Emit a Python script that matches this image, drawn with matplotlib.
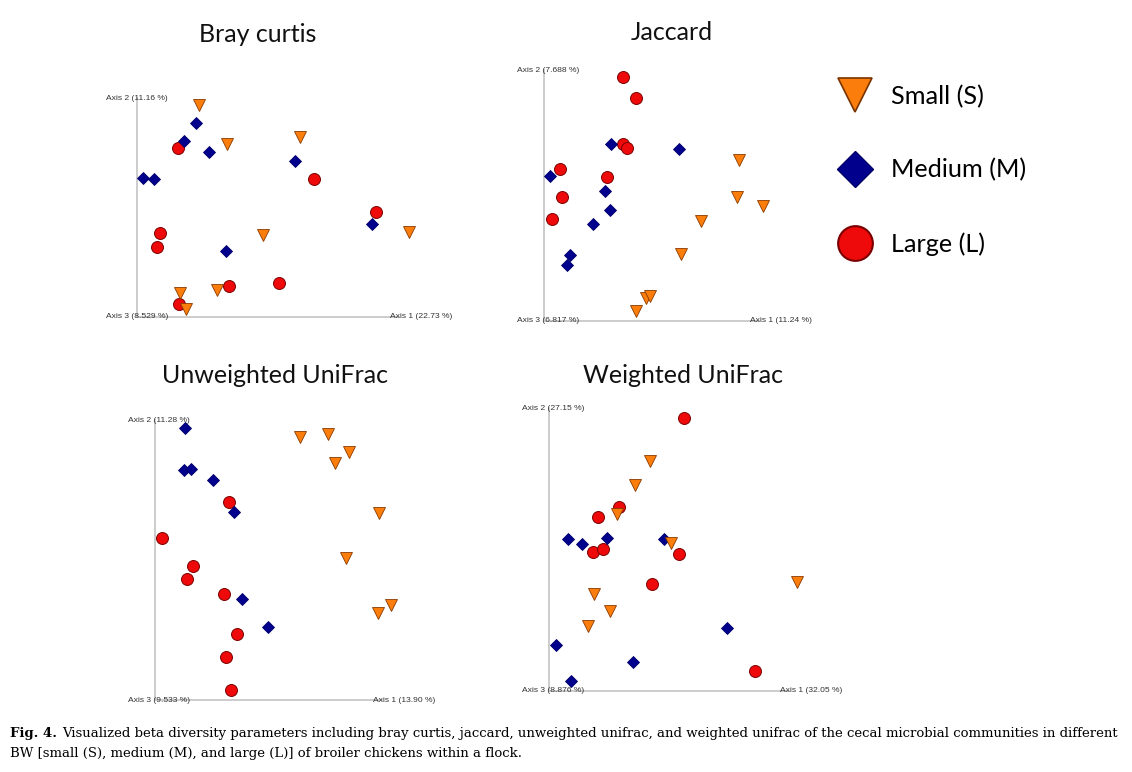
import matplotlib
matplotlib.use("Agg")
import matplotlib.pyplot as plt
from matplotlib.lines import Line2D

W, H = 1132, 772

# ordination scores (axis 1, axis 2), per group
bray_S = [(62, 212), (90, 173), (163, 180), (126, 82), (272, 85), (43, 24), (80, 27), (49, 8)]
bray_M = [(59, 194), (47, 176), (72, 165), (6, 139), (17, 138), (158, 156), (235, 93), (89, 66)]
bray_L = [(41, 169), (177, 138), (239, 105), (23, 84), (20, 70), (92, 31), (142, 34), (42, 13)]

jac_S = [(195, 161), (193, 124), (219, 115), (157, 100), (137, 67), (102, 23), (106, 25), (92, 10)]
jac_M = [(67, 177), (135, 172), (6, 145), (61, 130), (66, 111), (49, 97), (26, 66), (23, 56)]
jac_L = [(79, 244), (92, 223), (79, 177), (83, 173), (16, 152), (63, 144), (18, 124), (8, 102)]

unw_S = [(145, 263), (173, 266), (194, 248), (180, 237), (224, 187), (191, 142), (236, 95), (223, 87)]
unw_M = [(30, 272), (29, 230), (36, 231), (58, 220), (79, 188), (87, 101), (113, 73)]
unw_L = [(74, 198), (7, 162), (38, 134), (32, 121), (69, 106), (82, 66), (71, 43), (76, 10)]

wei_S = [(101, 230), (86, 206), (68, 177), (122, 148), (248, 109), (45, 97), (61, 80), (39, 65)]
wei_M = [(19, 152), (33, 147), (58, 153), (115, 152), (178, 63), (7, 46), (84, 29), (22, 10)]
wei_L = [(135, 273), (70, 184), (49, 174), (44, 139), (54, 142), (130, 137), (103, 107), (206, 20)]

titles = ["Bray curtis", "Jaccard", "Unweighted UniFrac", "Weighted UniFrac"]
axis1_labels = ["Axis 1 (22.73 %)", "Axis 1 (11.24 %)", "Axis 1 (13.90 %)", "Axis 1 (32.05 %)"]
axis2_labels = ["Axis 2 (11.16 %)", "Axis 2 (7.688 %)", "Axis 2 (11.28 %)", "Axis 2 (27.15 %)"]
axis3_labels = ["Axis 3 (8.529 %)", "Axis 3 (6.817 %)", "Axis 3 (9.533 %)", "Axis 3 (8.876 %)"]
groups = ["Small (S)", "Medium (M)", "Large (L)"]

S_style = dict(marker="v", ms=9, mfc="#fb7d0b", mec="#8a3a00", mew=0.6, ls="none")
M_style = dict(marker="D", ms=6.2, mfc="#00008c", mec="#00006a", mew=0.6, ls="none")
L_style = dict(marker="o", ms=8.6, mfc="#ee0a0a", mec="#7a0000", mew=0.7, ls="none")

fig = plt.figure(figsize=(W / 100, H / 100), dpi=100)

# panel layout in pixels: origin (x0, y0), axis-2 top, axis-1 end, label starts
panels = [
    dict(x0=137, y0=317, top=219, xend=262, lab_left=-31, lab_right=253),
    dict(x0=544, y0=321, top=251, xend=215, lab_left=-27, lab_right=206),
    dict(x0=155, y0=700, top=280, xend=227, lab_left=-27, lab_right=218),
    dict(x0=549, y0=691, top=283, xend=240, lab_left=-27, lab_right=231),
]
data = [(bray_S, bray_M, bray_L), (jac_S, jac_M, jac_L),
        (unw_S, unw_M, unw_L), (wei_S, wei_M, wei_L)]
title_pos = [(258, 34), (672, 33), (275, 376), (683, 376)]

L, R, T, B = 40, 320, 300, 15
for i, p in enumerate(panels):
    x0, y0 = p["x0"], p["y0"]
    ax = fig.add_axes([(x0 - L) / W, (H - (y0 + B)) / H, (L + R) / W, (T + B) / H])
    ax.set_xlim(-L, R)
    ax.set_ylim(-B, T)
    ax.axis("off")
    ax.plot([0, 0], [0, p["top"]], color="#c4c4c4", lw=1.2, zorder=1)
    ax.plot([0, p["xend"]], [0, 0], color="#c4c4c4", lw=1.2, zorder=1)
    S, M, Lg = data[i]
    ax.plot([a for a, b in Lg], [b for a, b in Lg], zorder=3, **L_style)
    ax.plot([a for a, b in M], [b for a, b in M], zorder=3, **M_style)
    ax.plot([a for a, b in S], [b for a, b in S], zorder=3, **S_style)
    lab = dict(fontsize=6.1, color="#333333", family="Liberation Sans", va="center", ha="left")
    ax.text(p["lab_left"], p["top"], axis2_labels[i], **lab)
    ax.text(p["lab_left"], 0, axis3_labels[i], **lab)
    ax.text(p["lab_right"], 0, axis1_labels[i], **lab)
    tx, ty = title_pos[i]
    fig.text(tx / W, 1 - ty / H, titles[i], fontsize=18, family="Lato",
             ha="center", va="center", color="#111111")

# legend
handles = [Line2D([], [], marker="v", ms=25, mfc="#fb7d0b", mec="#7a3300", mew=1.2, ls="none"),
           Line2D([], [], marker="D", ms=18, mfc="#00008c", mec="#00006a", mew=1, ls="none"),
           Line2D([], [], marker="o", ms=25, mfc="#ee0a0a", mec="#7a0000", mew=1.5, ls="none")]
fig.legend(handles, groups, loc="upper left", bbox_to_anchor=(822 / W, 1 - 72 / H),
           frameon=False, prop=dict(family="Lato", size=18.2),
           labelspacing=2.0, handletextpad=0.62, handlelength=1.6, borderpad=0)

# caption
cap1 = "Visualized beta diversity parameters including bray curtis, jaccard, unweighted unifrac, and weighted unifrac of the cecal microbial communities in different"
cap2 = "BW [small (S), medium (M), and large (L)] of broiler chickens within a flock."
fs = 10.0
f0 = fig.text(10 / W, 1 - 734 / H, "Fig. 4.", fontsize=fs, family="DejaVu Serif",
              weight="bold", va="center", ha="left")
t1 = fig.text(62 / W, 1 - 734 / H, cap1, fontsize=fs, family="DejaVu Serif", va="center", ha="left")
t2 = fig.text(10 / W, 1 - 753 / H, cap2, fontsize=fs, family="DejaVu Serif", va="center", ha="left")

# shrink caption so the first line ends where the reference does
for _ in range(3):
    fig.canvas.draw()
    width = t1.get_window_extent().width
    fs = fs * (1116 - 62) / width
    for t in (f0, t1, t2):
        t.set_fontsize(fs)

fig.savefig("out.png", dpi=100)
